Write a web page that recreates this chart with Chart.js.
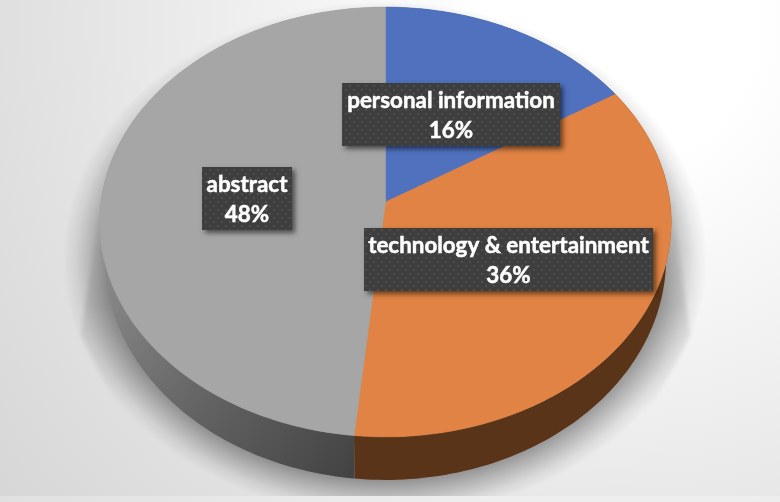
<!DOCTYPE html>
<html>
<head>
<meta charset="utf-8">
<script src="https://cdn.jsdelivr.net/npm/chart.js@4"></script>
<style>
  html, body { margin: 0; padding: 0; width: 780px; height: 502px; overflow: hidden; }
  body { background: radial-gradient(circle at 620px 30px, #fff 0, #fff 130px, #e4e4e4 540px, #d6d6d6 780px); }
  #wrap { width: 780px; height: 502px; }
</style>
</head>
<body>
<div id="wrap"><canvas id="pie" width="780" height="502"></canvas></div>
<script>
const categories = ['personal information', 'technology & entertainment', 'abstract'];
const shares = [16.1, 35.5, 48.4]; // labels round them
const sliceColours = ['#4f71be', '#e08344', '#a6a6a6'];

// data label boxes, same order as categories
const labelBoxes = [
  { x: 342, y: 83, w: 218, h: 63 },
  { x: 364, y: 228, w: 289, h: 63 },
  { x: 202, y: 167, w: 90, h: 63 }
];

// top face seen in perspective: the pie centre sits above the middle of the ellipse
const view = { cx: 385.5, cy: 202, a: 284.5, b: 213, p: 0.093 };

function topPoint(angle) {
  const X = Math.cos(angle), Y = Math.sin(angle);
  const k = 1 - view.p * Y;
  return { x: view.cx + view.a * X / k, y: view.cy + view.b * Y / k };
}

// lower rim of the disc
function rimPoint(angle) {
  const t = topPoint(angle);
  return { x: 385 + (t.x - 385) * 0.982, y: 258 + (t.y - 222) * 1.033 };
}

function arcSteps(start, end) {
  const n = Math.max(2, Math.ceil((end - start) / 0.02));
  const list = [];
  for (let i = 0; i <= n; i++) list.push(start + (end - start) * i / n);
  return list;
}

function dotPattern(ctx) {
  const c = document.createElement('canvas');
  c.width = 8; c.height = 8;
  const g = c.getContext('2d');
  g.fillStyle = '#3e3e3e';
  g.fillRect(0, 0, 8, 8);
  g.fillStyle = '#4f4f4f';
  g.fillRect(1, 1, 2, 2);
  g.fillRect(5, 5, 2, 2);
  return ctx.createPattern(c, 'repeat');
}

const discPlugin = {
  id: 'disc',
  beforeDatasetsDraw(chart) {
    const ctx = chart.ctx;
    const arcs = chart.getDatasetMeta(0).data;
    ctx.save();

    // strip along the bottom of the picture
    ctx.fillStyle = 'rgba(255,255,255,0.25)';
    ctx.fillRect(0, 496, 780, 6);

    // faint cast shadow behind the disc
    const fade = ctx.createLinearGradient(0, 200, 0, 410);
    fade.addColorStop(0, 'rgba(0,0,0,0.02)');
    fade.addColorStop(0.5, 'rgba(0,0,0,0.1)');
    fade.addColorStop(1, 'rgba(0,0,0,0)');
    ctx.filter = 'blur(2px)';
    ctx.fillStyle = fade;
    ctx.beginPath();
    ctx.moveTo(100, 200);
    ctx.lineTo(81, 335);
    ctx.lineTo(120, 410);
    ctx.lineTo(650, 410);
    ctx.lineTo(690, 335);
    ctx.lineTo(672, 200);
    ctx.closePath();
    ctx.fill();
    ctx.filter = 'none';

    // soft shadow round the lower rim, a radial fade squashed into an ellipse
    ctx.save();
    ctx.beginPath();
    ctx.rect(0, 0, 780, 496);
    ctx.clip();
    ctx.translate(385, 259);
    ctx.scale(1, 0.8);
    const halo = ctx.createRadialGradient(0, 0, 0, 0, 0, 322);
    halo.addColorStop(0, 'rgba(0,0,0,0.42)');
    halo.addColorStop(0.84, 'rgba(0,0,0,0.42)');
    halo.addColorStop(0.9, 'rgba(0,0,0,0.24)');
    halo.addColorStop(0.96, 'rgba(0,0,0,0.07)');
    halo.addColorStop(1, 'rgba(0,0,0,0)');
    ctx.fillStyle = halo;
    ctx.beginPath();
    ctx.arc(0, 0, 322, 0, Math.PI * 2);
    ctx.fill();
    ctx.restore();

    // side wall
    arcs.forEach((arc, i) => {
      const steps = arcSteps(arc.startAngle, arc.endAngle);
      if (i === 2) {
        const g = ctx.createLinearGradient(105, 270, 354, 470);
        g.addColorStop(0, '#8a8a8a');
        g.addColorStop(0.5, '#636363');
        g.addColorStop(1, '#434343');
        ctx.fillStyle = g;
      } else {
        ctx.fillStyle = i === 1 ? '#5a3418' : '#2f4370';
      }
      ctx.beginPath();
      steps.forEach((a, n) => {
        const p = topPoint(a);
        if (n === 0) ctx.moveTo(p.x, p.y); else ctx.lineTo(p.x, p.y);
      });
      steps.slice().reverse().forEach(a => {
        const p = rimPoint(a);
        ctx.lineTo(p.x, p.y);
      });
      ctx.closePath();
      ctx.fill();
    });

    // top face
    arcs.forEach(arc => {
      ctx.fillStyle = arc.options.backgroundColor;
      ctx.strokeStyle = arc.options.backgroundColor;
      ctx.lineWidth = 0.6;
      ctx.beginPath();
      ctx.moveTo(view.cx, view.cy);
      arcSteps(arc.startAngle, arc.endAngle).forEach(a => {
        const p = topPoint(a);
        ctx.lineTo(p.x, p.y);
      });
      ctx.closePath();
      ctx.fill();
      ctx.stroke();
    });
    ctx.restore();
    return false; // the faces above replace the flat circle
  },
  afterDraw(chart) {
    const ctx = chart.ctx;
    const fill = dotPattern(ctx);
    ctx.save();
    categories.forEach((name, i) => {
      const box = labelBoxes[i];
      ctx.save();
      ctx.shadowColor = 'rgba(0,0,0,0.55)';
      ctx.shadowBlur = 5;
      ctx.shadowOffsetX = 3;
      ctx.shadowOffsetY = 3;
      ctx.fillStyle = '#3e3e3e';
      ctx.fillRect(box.x, box.y, box.w, box.h);
      ctx.restore();
      ctx.fillStyle = fill;
      ctx.fillRect(box.x, box.y, box.w, box.h);

      ctx.fillStyle = '#ffffff';
      ctx.strokeStyle = '#ffffff';
      ctx.lineWidth = 0.5;
      ctx.font = 'bold 22.4px Lato';
      ctx.textAlign = 'center';
      ctx.textBaseline = 'middle';
      const mid = box.x + box.w / 2;
      const pct = Math.round(shares[i]) + '%';
      ctx.fillText(name, mid, box.y + 18);
      ctx.strokeText(name, mid, box.y + 18);
      ctx.fillText(pct, mid, box.y + 48);
      ctx.strokeText(pct, mid, box.y + 48);
    });
    ctx.restore();
  }
};

new Chart(document.getElementById('pie'), {
  type: 'pie',
  data: {
    labels: categories,
    datasets: [{ data: shares, backgroundColor: sliceColours, borderWidth: 0 }]
  },
  options: {
    responsive: false,
    devicePixelRatio: 1,
    animation: false,
    plugins: { legend: { display: false }, tooltip: { enabled: false } }
  },
  plugins: [discPlugin]
});
</script>
</body>
</html>
